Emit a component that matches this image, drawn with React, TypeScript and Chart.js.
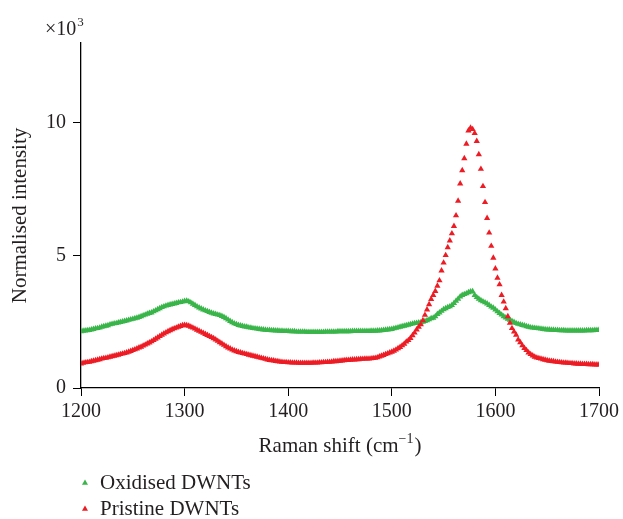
import React, { useEffect, useRef } from "react";
import { Chart, registerables } from "chart.js";

Chart.register(...registerables);

// Raman shift sample positions (cm^-1)
const ramanShift = [
  1200, 1202, 1204, 1206, 1208, 1210, 1212, 1214, 1216, 1218,
  1220, 1222, 1224, 1226, 1228, 1230, 1232, 1234, 1236, 1238,
  1240, 1242, 1244, 1246, 1248, 1250, 1252, 1254, 1256, 1258,
  1260, 1262, 1264, 1266, 1268, 1270, 1272, 1274, 1276, 1278,
  1280, 1282, 1284, 1286, 1288, 1290, 1292, 1294, 1296, 1298,
  1300, 1302, 1304, 1306, 1308, 1310, 1312, 1314, 1316, 1318,
  1320, 1322, 1324, 1326, 1328, 1330, 1332, 1334, 1336, 1338,
  1340, 1342, 1344, 1346, 1348, 1350, 1352, 1354, 1356, 1358,
  1360, 1362, 1364, 1366, 1368, 1370, 1372, 1374, 1376, 1378,
  1380, 1382, 1384, 1386, 1388, 1390, 1392, 1394, 1396, 1398,
  1400, 1402, 1404, 1406, 1408, 1410, 1412, 1414, 1416, 1418,
  1420, 1422, 1424, 1426, 1428, 1430, 1432, 1434, 1436, 1438,
  1440, 1442, 1444, 1446, 1448, 1450, 1452, 1454, 1456, 1458,
  1460, 1462, 1464, 1466, 1468, 1470, 1472, 1474, 1476, 1478,
  1480, 1482, 1484, 1486, 1488, 1490, 1492, 1494, 1496, 1498,
  1500, 1502, 1504, 1506, 1508, 1510, 1512, 1514, 1516, 1518,
  1520, 1522, 1524, 1526, 1528, 1530, 1532, 1534, 1536, 1538,
  1540, 1542, 1544, 1546, 1548, 1550, 1552, 1554, 1556, 1558,
  1560, 1562, 1564, 1566, 1568, 1570, 1572, 1574, 1576, 1578,
  1580, 1582, 1584, 1586, 1588, 1590, 1592, 1594, 1596, 1598,
  1600, 1602, 1604, 1606, 1608, 1610, 1612, 1614, 1616, 1618,
  1620, 1622, 1624, 1626, 1628, 1630, 1632, 1634, 1636, 1638,
  1640, 1642, 1644, 1646, 1648, 1650, 1652, 1654, 1656, 1658,
  1660, 1662, 1664, 1666, 1668, 1670, 1672, 1674, 1676, 1678,
  1680, 1682, 1684, 1686, 1688, 1690, 1692, 1694, 1696, 1698,
  1700,
];

// Normalised intensity (x10^3)
const oxidised = [
  2.13, 2.15, 2.16, 2.17, 2.18, 2.20, 2.22, 2.24, 2.25, 2.27,
  2.30, 2.32, 2.34, 2.36, 2.39, 2.41, 2.43, 2.44, 2.46, 2.48,
  2.50, 2.52, 2.54, 2.56, 2.58, 2.60, 2.62, 2.64, 2.67, 2.70,
  2.73, 2.76, 2.79, 2.82, 2.84, 2.88, 2.92, 2.96, 3.00, 3.04,
  3.07, 3.10, 3.12, 3.14, 3.16, 3.18, 3.20, 3.22, 3.23, 3.25,
  3.27, 3.28, 3.26, 3.22, 3.17, 3.12, 3.07, 3.03, 2.99, 2.95,
  2.92, 2.89, 2.86, 2.83, 2.80, 2.78, 2.76, 2.74, 2.71, 2.67,
  2.62, 2.57, 2.52, 2.47, 2.43, 2.40, 2.37, 2.35, 2.33, 2.31,
  2.30, 2.28, 2.27, 2.25, 2.24, 2.23, 2.22, 2.21, 2.20, 2.19,
  2.18, 2.18, 2.17, 2.17, 2.16, 2.16, 2.15, 2.15, 2.14, 2.14,
  2.14, 2.13, 2.13, 2.13, 2.12, 2.12, 2.12, 2.12, 2.12, 2.11,
  2.11, 2.11, 2.11, 2.11, 2.11, 2.11, 2.11, 2.11, 2.12, 2.12,
  2.12, 2.12, 2.12, 2.12, 2.13, 2.13, 2.13, 2.13, 2.13, 2.13,
  2.13, 2.14, 2.14, 2.14, 2.14, 2.14, 2.14, 2.14, 2.14, 2.14,
  2.15, 2.15, 2.15, 2.16, 2.16, 2.17, 2.18, 2.19, 2.20, 2.21,
  2.22, 2.24, 2.26, 2.28, 2.30, 2.32, 2.34, 2.36, 2.38, 2.40,
  2.42, 2.44, 2.45, 2.46, 2.47, 2.49, 2.52, 2.55, 2.58, 2.62,
  2.64, 2.70, 2.78, 2.84, 2.90, 2.96, 3.00, 3.04, 3.07, 3.12,
  3.20, 3.28, 3.36, 3.44, 3.50, 3.53, 3.56, 3.60, 3.63, 3.64,
  3.50, 3.42, 3.36, 3.30, 3.26, 3.22, 3.18, 3.12, 3.06, 3.02,
  2.95, 2.88, 2.82, 2.76, 2.70, 2.65, 2.60, 2.56, 2.52, 2.48,
  2.44, 2.41, 2.39, 2.37, 2.35, 2.32, 2.30, 2.28, 2.27, 2.26,
  2.25, 2.24, 2.23, 2.22, 2.21, 2.20, 2.20, 2.19, 2.19, 2.18,
  2.18, 2.17, 2.17, 2.17, 2.16, 2.16, 2.16, 2.16, 2.16, 2.16,
  2.16, 2.16, 2.16, 2.16, 2.17, 2.17, 2.17, 2.17, 2.18, 2.18,
  2.19,
];

const pristine = [
  0.92, 0.94, 0.96, 0.97, 0.98, 1.00, 1.02, 1.04, 1.06, 1.08,
  1.10, 1.12, 1.13, 1.15, 1.17, 1.19, 1.21, 1.23, 1.25, 1.27,
  1.29, 1.31, 1.33, 1.36, 1.39, 1.42, 1.45, 1.48, 1.52, 1.55,
  1.59, 1.63, 1.67, 1.71, 1.75, 1.80, 1.85, 1.90, 1.95, 2.00,
  2.05, 2.09, 2.13, 2.17, 2.21, 2.24, 2.27, 2.30, 2.33, 2.36,
  2.37, 2.36, 2.34, 2.30, 2.27, 2.23, 2.19, 2.15, 2.11, 2.07,
  2.03, 1.99, 1.95, 1.91, 1.87, 1.82, 1.77, 1.72, 1.67, 1.62,
  1.57, 1.52, 1.48, 1.44, 1.41, 1.38, 1.35, 1.33, 1.31, 1.29,
  1.27, 1.25, 1.23, 1.21, 1.19, 1.17, 1.15, 1.13, 1.11, 1.09,
  1.07, 1.05, 1.04, 1.03, 1.01, 1.00, 0.99, 0.98, 0.97, 0.97,
  0.96, 0.96, 0.95, 0.95, 0.95, 0.94, 0.94, 0.94, 0.94, 0.94,
  0.94, 0.94, 0.95, 0.95, 0.95, 0.96, 0.96, 0.97, 0.97, 0.98,
  0.98, 0.99, 1.00, 1.00, 1.01, 1.02, 1.03, 1.04, 1.05, 1.05,
  1.06, 1.07, 1.07, 1.08, 1.08, 1.09, 1.09, 1.10, 1.10, 1.10,
  1.11, 1.12, 1.13, 1.15, 1.18, 1.21, 1.24, 1.27, 1.30, 1.33,
  1.36, 1.40, 1.44, 1.49, 1.54, 1.60, 1.66, 1.74, 1.80, 1.88,
  1.98, 2.08, 2.20, 2.30, 2.39, 2.55, 2.75, 2.95, 3.15, 3.35,
  3.50, 3.65, 3.85, 4.05, 4.42, 4.72, 5.00, 5.30, 5.55, 5.82,
  6.10, 6.50, 7.05, 7.70, 8.20, 8.65, 9.20, 9.70, 9.80, 9.75,
  9.60, 9.30, 8.80, 8.25, 7.60, 7.00, 6.40, 5.85, 5.35, 4.90,
  4.50, 4.15, 3.90, 3.50, 3.25, 3.00, 2.70, 2.45, 2.25, 2.12,
  2.00, 1.82, 1.72, 1.60, 1.50, 1.42, 1.33, 1.27, 1.22, 1.17,
  1.14, 1.12, 1.10, 1.08, 1.06, 1.04, 1.02, 1.01, 1.00, 0.99,
  0.98, 0.97, 0.96, 0.95, 0.95, 0.94, 0.93, 0.93, 0.92, 0.92,
  0.91, 0.91, 0.90, 0.90, 0.90, 0.89, 0.89, 0.89, 0.88, 0.88,
  0.88,
];

const seriesNames = ["Oxidised DWNTs", "Pristine DWNTs"];
const xTicks = [1200, 1300, 1400, 1500, 1600, 1700];
const yTicks = [0, 5, 10];

const GREEN = "#39b54a";
const RED = "#ed1c24";
const TEXT = "#231f20";
const FONT = "'Liberation Serif', 'DejaVu Serif', serif";

export default function App() {
  const canvasRef = useRef<HTMLCanvasElement | null>(null);

  useEffect(() => {
    const canvas = canvasRef.current;
    if (!canvas) return;

    const extras = {
      id: "extras",
      afterDraw(chart: any) {
        const ctx = chart.ctx as CanvasRenderingContext2D;
        const area = chart.chartArea;
        ctx.save();
        ctx.fillStyle = TEXT;
        ctx.textBaseline = "alphabetic";
        // multiplier
        ctx.font = `20px ${FONT}`;
        ctx.textAlign = "left";
        const mult = "×10";
        const mw = ctx.measureText(mult).width;
        const mx = area.left - 36;
        ctx.fillText(mult, mx, 35);
        ctx.font = `13px ${FONT}`;
        ctx.fillText("3", mx + mw + 1, 26);

        // x axis title
        ctx.font = `21px ${FONT}`;
        const t1 = "Raman shift (cm";
        const t2 = "−1";
        const t3 = ")";
        const w1 = ctx.measureText(t1).width;
        const w3 = ctx.measureText(t3).width;
        ctx.font = `14px ${FONT}`;
        const w2 = ctx.measureText(t2).width;
        const total = w1 + w2 + w3 + 1;
        const cx = (area.left + area.right) / 2;
        let x = cx - total / 2;
        const by = 452;
        ctx.font = `21px ${FONT}`;
        ctx.fillText(t1, x, by);
        x += w1;
        ctx.font = `14px ${FONT}`;
        ctx.fillText(t2, x, by - 9);
        x += w2 + 1;
        ctx.font = `21px ${FONT}`;
        ctx.fillText(t3, x, by);

        // legend
        const colors = [GREEN, RED];
        const ys = [483, 509];
        ctx.font = `21px ${FONT}`;
        ctx.textBaseline = "middle";
        seriesNames.forEach((name, i) => {
          const px = 85;
          const py = ys[i];
          const r = 3.5;
          ctx.fillStyle = colors[i];
          ctx.beginPath();
          ctx.moveTo(px, py - r);
          ctx.lineTo(px + r * 0.866, py + r * 0.5);
          ctx.lineTo(px - r * 0.866, py + r * 0.5);
          ctx.closePath();
          ctx.fill();
          ctx.fillStyle = TEXT;
          ctx.fillText(name, 100, py);
        });
        ctx.restore();
      },
    };

    const chart = new Chart(canvas, {
      type: "scatter",
      data: {
        datasets: [
          {
            label: seriesNames[0],
            data: ramanShift.map((x, i) => ({ x, y: oxidised[i] })),
            backgroundColor: GREEN,
            borderColor: GREEN,
            pointStyle: "triangle",
            pointRadius: 3.6,
            pointBorderWidth: 0,
            showLine: false,
            order: 2,
          },
          {
            label: seriesNames[1],
            data: ramanShift.map((x, i) => ({ x, y: pristine[i] })),
            backgroundColor: RED,
            borderColor: RED,
            pointStyle: "triangle",
            pointRadius: 3.6,
            pointBorderWidth: 0,
            showLine: false,
            order: 1,
          },
        ],
      },
      options: {
        animation: false,
        responsive: true,
        maintainAspectRatio: false,
        layout: { padding: { left: 0, right: 23, top: 43, bottom: 0 } },
        plugins: {
          legend: { display: false },
          tooltip: { enabled: false },
          title: { display: false },
        },
        scales: {
          x: {
            type: "linear",
            min: 1200,
            max: 1700,
            afterFit: (s: any) => {
              s.height = 131;
            },
            afterBuildTicks: (s: any) => {
              s.ticks = xTicks.map((v) => ({ value: v }));
            },
            ticks: {
              color: TEXT,
              font: { family: FONT, size: 20 },
              padding: 4,
              maxRotation: 0,
              callback: (v: any) => String(v),
            },
            grid: {
              drawOnChartArea: false,
              drawTicks: true,
              tickLength: 8,
              color: "#000",
            },
            border: { display: true, color: "#000", width: 1.3 },
            title: { display: false },
          },
          y: {
            type: "linear",
            min: 0,
            max: 13,
            afterFit: (s: any) => {
              s.width = 81;
            },
            afterBuildTicks: (s: any) => {
              s.ticks = yTicks.map((v) => ({ value: v }));
            },
            ticks: {
              color: TEXT,
              font: { family: FONT, size: 20 },
              padding: 7,
              callback: (v: any) => String(v),
            },
            grid: {
              drawOnChartArea: false,
              drawTicks: true,
              tickLength: 8,
              color: "#000",
            },
            border: { display: true, color: "#000", width: 1.3 },
            title: {
              display: true,
              text: "Normalised intensity",
              color: TEXT,
              font: { family: FONT, size: 21 },
              padding: { top: 8, bottom: 0 },
            },
          },
        },
      },
      plugins: [extras],
    });

    return () => {
      chart.destroy();
    };
  }, []);

  return (
    <div
      style={{
        position: "absolute",
        left: 0,
        top: 0,
        width: 623,
        height: 519,
        background: "#fff",
      }}
    >
      <canvas ref={canvasRef} />
    </div>
  );
}
